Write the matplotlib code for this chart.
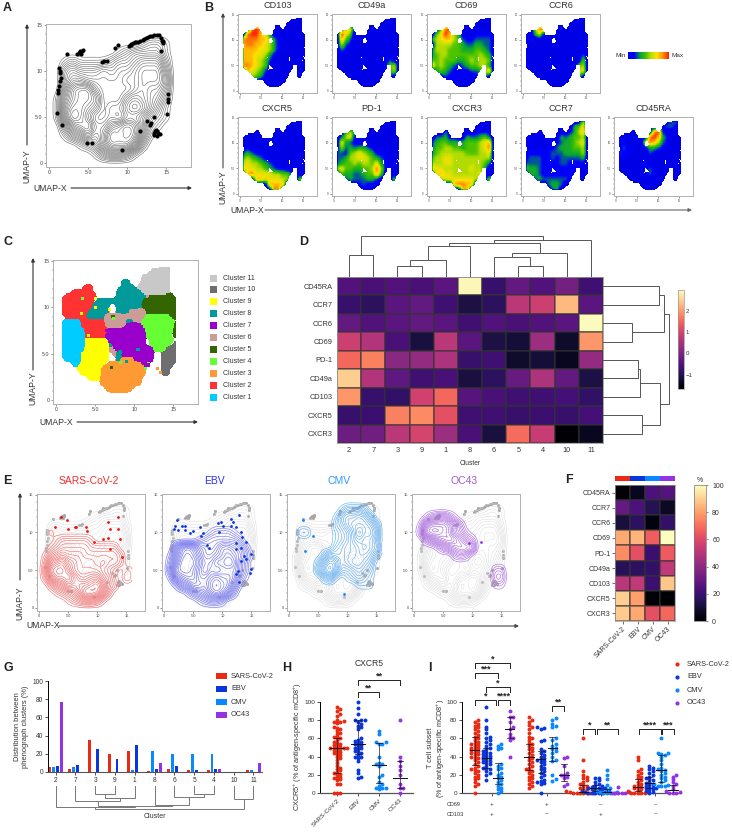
import numpy as np
import matplotlib
matplotlib.use("Agg")
from matplotlib import pyplot as plt
from matplotlib.colors import ListedColormap, LinearSegmentedColormap
from matplotlib.patches import Rectangle

plt.rcParams['font.family'] = ['Liberation Sans', 'DejaVu Sans']
plt.rcParams['mathtext.default'] = 'regular'

W, H = 732, 833
TXT = '#333333'

# ---- data ----
viruses = ["SARS-CoV-2", "EBV", "CMV", "OC43"]
virus_colors = ['#ea2a12', '#0a36e0', '#0a88ff', '#9433e4']

# cluster seen at each half unit of UMAP, y 14 -> 1, x 1 -> 15 (a = 10, b = 11 in the key order below)
cluster_map = [
    ".........................bb..",
    "......................bbbbb..",
    "....................bbbbbbb..",
    "...............88...bbbbbbb..",
    "......22.......888.bbbbbbbb..",
    "...22222......888888bbbbbbb..",
    ".22222222.....88888886555555.",
    "22222222.88888888888555555555",
    "222222228888..888888555555555",
    "222222288888..888666655555555",
    ".2222288888666666666644444455",
    ".111122222266666886644444444.",
    "11111222222666667777444444445",
    "11111122222277777777744444445",
    "111111222227777777777444444.5",
    "11111199999.777777777.444444.",
    "111111999999877777777.44444.a",
    "1111119999996.777777777444aaa",
    "111119999999.6877777777..aaaa",
    ".11119999999..833377777..aaaa",
    "...11999999.3333333377...aaa.",
    "....99999933333333333....aa..",
    ".....9999933333333333....aa..",
    ".......9993333333333.........",
    "..........3333333333.........",
    "...........3333333...........",
    ".............333.............",
]
cluster_keys = "123456789ab"
cluster_colors = ['#00ccff', '#ff3333', '#ff9933', '#66ff33', '#336600', '#cc9c96',
                  '#9a00cc', '#009a9a', '#ffff00', '#6e6e6e', '#c8c8c8']
cluster_names = ["Cluster %d" % n for n in range(11, 0, -1)]
stray_x = [3.4, 5, 5, 6.8, 7.3, 7.4, 3.3, 4.2, 6.5, 11, 8.2, 8.3, 7.1, 11.8, 13, 13.4, 11.5, 9, 10.5, 11.8]
stray_y = [11, 11, 10, 9.8, 9, 8.8, 9.3, 7, 7.5, 7.9, 5.2, 4.1, 3.5, 4, 3.4, 3, 3.4, 4.2, 5.5, 3.8]
stray_c = "49995499778454334887"

# marker level 0-9 per UMAP unit, y 14 -> 1, x 1 -> 15
cd103 = ["000000000000000", "000000000000000", "008980000000000", "089976300000000",
         "888877531000000", "788776531000000", "777766531000000", "777665310000000",
         "777654200000000", "887654100000000", "076542000000000", "005431000000000",
         "000100000000000", "000000000000000"]
cd49a = ["000000000000000", "000000000000100", "008610000000000", "096400000000000",
         "074200000001000", "052100000000100", "021000000000000", "010000000000000",
         "000000000000200", "000000000001450", "000000000000350", "000000000000200",
         "000000000000000", "000000000000000"]
cd69 = ["000000000000000", "000000000000000", "004890000000000", "046975300011110",
        "456775421122220", "055554432233220", "355544433344320", "345544444445431",
        "445444334545540", "745432123445530", "034321111223470", "001211111012400",
        "000011100000000", "000000000000000"]
ccr6 = ["000000000000000", "000000000000000", "004890000000000", "003610000000000",
        "010000000000000", "000000000000000", "000000000000000", "000000000000020",
        "100000000000040", "200000000000450", "000000000000560", "000000000000500",
        "000000000000000", "000000000000000"]
cxcr5 = ["000000000000000", "000000000000000", "000000000000000", "000000000000000",
         "000000000000000", "010000000000000", "232110000000000", "454321000000000",
         "565543210000000", "766554321100000", "078666655442000", "000776666552050",
         "000000777700000", "000000088000000"]
pd1 = ["000000000000000", "000000000000000", "003530000000000", "025610000000000",
       "063210100000000", "052323321000000", "221456543110000", "223556654321000",
       "234454554631000", "564433445851100", "043322344740000", "002322233200040",
       "000011211000000", "000000000000000"]
cxcr3 = ["000000000000000", "000000000001000", "000210000011110", "022311003223420",
         "234433334445670", "244554434445680", "345555554445560", "455665555555550",
         "555665555555420", "766555555655300", "067665555556000", "005666666655050",
         "000007887700000", "000000077000000"]
ccr7 = ["000000000000050", "000000000003460", "001000000013570", "010100003234450",
        "010001112334560", "010101123334450", "111111222333350", "122211212222230",
        "222211112211110", "433211111111100", "033211111111000", "002322222211000",
        "000002332000000", "000000230000000"]
cd45ra = ["000000000001220", "000000000012210", "000000008910000", "010000089731000",
          "010000687521000", "021000133211000", "211000021000000", "110000000000000",
          "000000100000000", "000000121000000", "000000121000000", "000000000000000",
          "000000000000000", "000000000000000"]
b_titles = ["CD103", "CD49a", "CD69", "CCR6", "CXCR5", "PD-1", "CXCR3", "CCR7", "CD45RA"]
b_levels = [cd103, cd49a, cd69, ccr6, cxcr5, pd1, cxcr3, ccr7, cd45ra]

# density per UMAP unit, y 15 -> 0, x 0 -> 16
density_all = ["00000000000000000", "00000000000000000", "00000000000012210", "00000000012333310",
               "00121111233455520", "00343334344566630", "00355444445566640", "00478854444565530",
               "01578874446765420", "01688764557875310", "01698644546653210", "00367855789852100",
               "00134646989841000", "00001236888620000", "00000013443100000", "00000000000000000"]
density_sars = ["00000000000000000", "00000000000000000", "00000000000000000", "00000000000000000",
                "00000000000000000", "00100000000000000", "00012222210000000", "00123333322222000",
                "01345444333333200", "02678654443433200", "03899754444321011", "02688975566431021",
                "00245767789632000", "00012346998520000", "00000123443100000", "00000000000000000"]
density_ebv = ["00000000000000000", "00000000000000000", "00000000000000000", "00000000000000000",
               "00000000000000000", "00000000122210000", "00000012333332000", "00478754346654200",
               "01589864456765310", "02699975577874200", "03899864656664200", "01678866787763100",
               "00145776898741000", "00001345787520000", "00000012332000000", "00000000000000000"]
density_cmv = ["00000000000000000", "00000000000000000", "00000000013332000", "00000000145565300",
               "00000000235666530", "00220000123586640", "00000000123565530", "00000000234456541",
               "00000024334455420", "00000257634554300", "00000368522343200", "00000024101232100",
               "00000000000011100", "00000000000000000", "00000000000000000", "00000000000000000"]
density_oc43 = ["00000000000000000", "00000000000000000", "00000000000000000", "00134531000000000",
                "01688875200000000", "02899874310000000", "00246787532000000", "00001345665000000",
                "00000002320000000", "00000000000000000", "00000000000000220", "00000000000000330",
                "00000000000000110", "00000000000000000", "00000000000000000", "00000000000000000"]
e_density = [density_sars, density_ebv, density_cmv, density_oc43]
e_line = ['#f46a6a', '#6a6af0', '#5aaaf0', '#a866e0']
e_title = ['#f03030', '#3030f0', '#2a9cff', '#a05cd0']

rim_x = [2.3, 3.8, 4, 4.3, 6.75, 7.4, 8.5, 8.8, 10.2, 10.8, 11.7, 12.7, 13.8, 14.4, 14.6, 14.4, 1.3, 1.5, 1.3,
         1.1, 1, 1.6, 15.3, 15.3, 15.1, 12.5, 13.4, 13.6, 14, 13.4, 13.8, 11.7, 4.9, 5.5, 9.4,
         3.6, 10.5, 11.2, 12.2, 13.2, 1.4, 1.4, 15.3, 12.9, 3.9, 4.1, 4.2, 10.5, 11.0, 11.4, 12.0, 12.4, 13.0, 13.5,
         14.1, 14.5, 14.6, 1.4, 1.2, 13.5, 13.9, 13.7, 14.2, 13.1, 7.1]
rim_y = [11.8, 12, 12.1, 12.3, 11, 11.1, 12.5, 12.8, 12.7, 13, 13.3, 13.7, 13.9, 13.6, 13, 12.2, 10.3, 9.3, 8.4,
         7.6, 5.4, 4.2, 7.5, 6.6, 5.3, 4.6, 5, 3.5, 3.3, 3.1, 3, 3.5, 2.2, 2.2, 1.4,
         11.9, 12.8, 13.1, 13.5, 13.8, 9.8, 8.9, 7, 4.2, 12.2, 11.9, 12.2, 12.9, 13.2, 13.2, 13.4, 13.6, 13.8, 13.9,
         13.9, 13.3, 13.3, 10, 8, 3.3, 3.5, 3.6, 3.2, 4.4, 11.05]

sars_x = [2.7, 3.7, 4.7, 4.9, 6.1, 6.3, 8, 8.2, 9.5, 10.9, 11.8, 11.8, 13.5, 13.6, 12.2, 13.9, 12.2, 14.2]
sars_y = [10.7, 12, 11.6, 10.5, 10.7, 10.7, 10.7, 10.2, 8.7, 9.2, 9.3, 11.4, 12, 10.4, 10.4, 9.1, 7.8, 6.8]
ebv_x = [2.2, 1.9, 1.7, 3, 3.5, 2.3, 3.6, 4.4, 4.9, 6.1, 6.7, 6.4, 7.3, 7.7, 9.3, 9.8, 10.1, 9.5, 11.4, 11.8,
         12.8, 11.5, 12.4, 13.2, 13.4, 12.4, 14, 13.2, 12.4, 15, 13.8, 13.2, 14, 12.7, 14.9, 14.8, 12.4, 12.8]
ebv_y = [11.7, 10.9, 10.5, 10.9, 10.9, 10.3, 10.3, 9.9, 10.2, 10.7, 9.9, 9.5, 8.3, 7.9, 11.2, 11.4, 10.9, 10, 11.8, 11.4,
         12.3, 10.9, 10.7, 10, 9.4, 8.6, 8.8, 8, 7.8, 7.1, 6.9, 6.2, 6.5, 4.9, 5.1, 4.6, 4.5, 3.5]
cmv_x = [2.3, 4.1, 2.7, 9.5]
cmv_y = [11.7, 9.6, 7.6, 1.9]
oc43_x = [9.5, 11.4]
oc43_y = [8.6, 8.7]
e_points = [(sars_x, sars_y), (ebv_x, ebv_y), (cmv_x, cmv_y), (oc43_x, oc43_y)]

# panel D
d_rows = ["CD45RA", "CCR7", "CCR6", "CD69", "PD-1", "CD49a", "CD103", "CXCR5", "CXCR3"]
d_cols = ["2", "7", "3", "9", "1", "8", "6", "5", "4", "10", "11"]
d_values = [[-0.5, -0.6, -0.5, -0.6, -0.4, 2.9, -0.8, -0.3, -0.5, -0.1, -0.7],
            [-0.8, -0.9, -0.4, -0.3, -0.7, -1.1, -0.9, 0.7, 0.9, 2.3, -0.4],
            [-0.3, -0.5, -0.4, -0.3, -0.4, -0.7, -0.5, -0.6, -0.5, -0.4, 2.95],
            [0.9, 0.6, -0.6, -1.15, 0.7, -0.4, -1.1, -1.2, 0.35, -1.3, 1.95],
            [1.5, 1.75, 0.15, 0.25, 0.55, -0.8, -0.7, -1.3, -1.2, -1.4, 0.25],
            [2.5, 0.6, -0.35, -0.7, -0.6, -1.15, -0.9, -0.25, 0.55, -0.3, -1.1],
            [1.95, -0.8, -0.85, 0.95, 1.5, -0.45, -0.6, -0.7, -0.7, -0.65, -0.85],
            [-0.8, -0.75, 1.75, 1.85, 1.2, -0.7, -0.7, -0.8, -0.75, -0.8, -0.65],
            [-0.2, -0.15, 0.7, 1.0, 0.35, -0.6, -1.15, 1.55, 0.85, -1.65, -1.4]]
# dendrogram merges: left pos, right pos, left height, right height, merge height
d_top_links = [(0, 1, 0, 0, 21.7), (2, 3, 0, 0, 11.3), (2.5, 4, 11.3, 0, 17), (3.25, 5, 17, 0, 31.3),
               (7, 8, 0, 0, 11.3), (6, 7.5, 0, 11.3, 20), (6.75, 9, 20, 0, 24), (4.125, 7.875, 31.3, 24, 34.3),
               (6, 10, 34.3, 0, 37.3), (0.5, 8, 21.7, 37.3, 41)]
d_right_links = [(0, 1, 0, 0, 56.3), (2, 3, 0, 0, 28.7), (0.5, 2.5, 56.3, 28.7, 61.3), (4, 5, 0, 0, 34.7),
                 (4.5, 6, 34.7, 0, 36.7), (7, 8, 0, 0, 39), (5.25, 7.5, 36.7, 39, 56.7), (1.5, 6.375, 61.3, 56.7, 65.7)]

# panel F
f_values = [[1, 6, 24, 26], [30, 24, 15, 7], [11, 17, 3, 18], [82, 84, 66, 100], [76, 62, 20, 65],
            [16, 17, 18, 52], [50, 52, 20, 88], [90, 80, 1, 0], [89, 82, 62, 68]]

# panel G, bars sit in the order SARS-CoV-2, CMV, EBV, OC43
g_sars = [6, 3.5, 35, 19.5, 23, 1.5, 3, 2, 2.5, 0, 2]
g_cmv = [5.5, 6, 0, 0, 2, 23, 20, 20, 19.5, 0, 2]
g_ebv = [7, 8, 25, 14, 30, 3, 7, 2.5, 3, 0, 0]
g_oc43 = [77, 0, 0, 0, 0, 9.5, 0, 0, 3, 0, 10]
g_links = [(2, 3, 0, 0, 8), (2.5, 4, 8, 0, 12.3), (1, 3.25, 0, 12.3, 14.7), (7, 8, 0, 0, 8), (6, 7.5, 0, 8, 10.7),
           (5, 6.75, 0, 10.7, 18.7), (2.125, 5.875, 14.7, 18.7, 19.7), (0, 4, 0, 19.7, 21.3), (9, 10, 0, 0, 13.3),
           (2, 9.5, 21.3, 13.3, 23.3)]

# panel H
h_sars = [94, 92, 90, 87, 85, 80, 79, 78, 78, 77, 72, 71, 70, 68, 66, 65, 62, 61, 60, 58, 56, 55, 54, 53, 52, 51, 50, 50,
          50, 50, 49, 48, 47, 46, 45, 44, 43, 42, 40, 38, 36, 33, 30, 28, 26, 25, 23, 22, 21, 20, 18, 17, 16, 15, 14, 10, 10, 0, 0, 0]
h_ebv = [100, 93, 87, 80, 80, 80, 78, 76, 74, 72, 70, 60, 58, 57, 56, 55, 54, 53, 52, 50, 50, 48, 46, 45, 44, 42, 40, 40,
         38, 35, 25, 22, 18, 17]
h_cmv = [68, 65, 56, 56, 54, 54, 40, 33, 32, 32, 30, 20, 18, 12, 10, 8, 6, 5, 5, 4]
h_oc43 = [80, 40, 35, 30, 25, 20, 10, 6, 5, 0]
h_values = [h_sars, h_ebv, h_cmv, h_oc43]
h_median = [50, 54, 31, 16]
h_low = [22, 43, 11, 6]
h_high = [60, 80, 55, 35]
h_brackets = [(1, 2, 111.3, "**"), (1, 3, 123.8, "**")]

# panel I, four subsets of four viruses
i_values = [
    [[80, 78, 76, 74, 72, 70, 68, 66, 64, 62, 60, 58, 56, 55, 54, 53, 52, 50, 50, 48, 47, 46, 45, 44, 43, 42, 40, 39, 38, 36,
      34, 32, 30, 28, 26, 25, 24, 22, 20, 18, 16, 15, 12, 10, 8, 0],
     [95, 80, 73, 70, 66, 62, 60, 58, 56, 54, 52, 50, 48, 46, 45, 44, 43, 42, 41, 40, 39, 38, 37, 36, 35, 34, 33, 32, 30, 28,
      27, 26, 24, 22, 20, 14],
     [54, 52, 50, 48, 32, 30, 28, 26, 22, 20, 18, 16, 14, 12, 10, 8, 6, 4, 2, 0],
     [90, 84, 83, 78, 72, 70, 65, 62, 60, 58, 40]],
    [[83, 80, 78, 75, 72, 70, 66, 62, 60, 58, 55, 54, 52, 50, 48, 46, 44, 42, 40, 38, 36, 34, 32, 30, 28, 26, 25, 24, 22, 20,
      18, 16, 14, 12, 10, 8, 6],
     [72, 71, 70, 58, 57, 48, 46, 44, 42, 40, 38, 37, 36, 35, 34, 32, 30, 28, 26, 24, 22, 20, 18, 14, 13, 12, 11, 10, 0],
     [82, 80, 76, 74, 72, 60, 58, 54, 52, 50, 48, 46, 44, 40, 36, 35, 20, 15, 13],
     [40, 38, 30, 22, 20, 20, 18, 16, 10, 8]],
    [[60, 36, 24, 20, 18, 16, 14, 12, 10, 9, 8, 6, 5, 4, 3, 2, 2, 1, 1, 0, 0, 0, 0, 0, 0, 0],
     [17, 16, 14, 12, 10, 9, 8, 7, 6, 6, 5, 5, 4, 4, 3, 3, 2, 2, 1, 1, 0, 0, 0, 0, 0],
     [25, 20, 15, 9, 5, 3, 2, 1, 1, 0, 0, 0, 0],
     [7, 1, 0, 0, 0, 0, 0]],
    [[40, 36, 26, 24, 22, 20, 18, 16, 14, 12, 10, 9, 8, 7, 6, 5, 4, 3, 2, 1, 0, 0, 0, 0, 0],
     [30, 28, 26, 24, 22, 20, 18, 16, 15, 14, 12, 11, 10, 9, 8, 7, 6, 5, 5, 4, 3, 2, 1, 0],
     [60, 44, 44, 43, 42, 40, 36, 32, 28, 26, 25, 24, 22, 20, 18, 16, 14, 12, 10, 9, 8, 8, 8],
     [20, 18, 15, 12, 10, 8, 4, 2, 1, 0, 0, 0]],
]
i_median = [[47, 38, 17, 70], [40, 37, 50, 20], [1, 6, 1, 0], [7, 11, 25, 3]]
i_low = [[31, 27, 10, 60], [25, 22, 35, 13], [0, 2, 0, 0], [2, 5, 12, 0]]
i_high = [[62, 50, 33, 83], [54, 46, 62, 32], [9, 9, 4, 0], [15, 18, 42, 9]]
i_cd69 = ["+", "+", "\u2013", "\u2013"]
i_cd103 = ["+", "\u2013", "+", "\u2013"]
i_brackets = [(0, 1.86, 102, "*"), (2, 3, 102, "****"), (1, 3, 116.8, "*"), (0, 2, 131.5, "***"), (0, 3, 143, "*"),
              (6.66, 7.66, 95.2, "**"), (9.32, 10.32, 70.7, "*"), (10.47, 12.32, 70.7, "**"),
              (14.11, 15.94, 70.7, "****"), (16.09, 17.09, 70.7, "***")]


# ---- helpers ----
fig = plt.figure(figsize=(W / 100, H / 100), dpi=100)

def px_axes(l, t, r, b):
    return fig.add_axes([l / W, 1 - b / H, (r - l) / W, (b - t) / H])

page = px_axes(0, 0, W, H)
page.set_xlim(0, W)
page.set_ylim(H, 0)
page.axis('off')
page.set_zorder(10)

def arrow(x0, y0, x1, y1, color='#333333'):
    page.annotate('', xy=(x1, y1), xytext=(x0, y0),
                  arrowprops=dict(arrowstyle='-|>', color=color, lw=0.8, mutation_scale=5, shrinkA=0, shrinkB=0))

def letter(s, x, y):
    page.text(x, y, s, fontsize=9, fontweight='bold', color='#222222', ha='left', va='center')

def digits(rows):
    return np.array([[int(c) for c in row] for row in rows], dtype=float)

def upsample(a, n):
    rows = np.arange(0, a.shape[0] - 1 + 1e-9, 1 / n)
    cols = np.arange(0, a.shape[1] - 1 + 1e-9, 1 / n)
    tmp = np.array([np.interp(cols, np.arange(a.shape[1]), r) for r in a])
    return np.array([np.interp(rows, np.arange(a.shape[0]), c) for c in tmp.T]).T

def soften(a, k=5):
    kernel = np.ones(k) / k
    a = np.apply_along_axis(lambda v: np.convolve(v, kernel, mode='same'), 0, a)
    return np.apply_along_axis(lambda v: np.convolve(v, kernel, mode='same'), 1, a)

def umap_axes(l, t, r, b, tick_size):
    ax = px_axes(l, t, r, b)
    ax.set_xlim(-0.4, 18.2)
    ax.set_ylim(-0.4, 15.1)
    ax.set_xticks([0, 5, 10, 15], ["0", "5.0", "10", "15"])
    ax.set_yticks([0, 5, 10, 15], ["0", "5.0", "10", "15"])
    ax.set_xticks(range(0, 19), minor=True)
    ax.set_yticks(range(0, 16), minor=True)
    ax.tick_params(labelsize=tick_size, length=1.5, width=0.4, pad=1, colors='#444444')
    ax.tick_params(which='minor', length=0.8, width=0.3, colors='#444444')
    for s in ax.spines.values():
        s.set_color('#b0b0b0')
        s.set_linewidth(0.7)
    return ax

def draw_density(ax, rows, color, lw, levels):
    z = soften(upsample(digits(rows), 5))
    xs = np.linspace(0, 16, z.shape[1])
    ys = np.linspace(15, 0, z.shape[0])
    ax.contour(xs, ys, z, levels=levels, colors=color, linewidths=lw)

def draw_links(ax, links, vertical=True, color='#555555'):
    for a, b, ha, hb, h in links:
        if vertical:
            ax.plot([a, a, b, b], [ha, h, h, hb], color=color, lw=0.7, solid_joinstyle='miter')
        else:
            ax.plot([ha, h, h, hb], [a, a, b, b], color=color, lw=0.7, solid_joinstyle='miter')

def swarm(values, px_x, px_y, d):
    placed = []
    out = []
    for v in sorted(values):
        k = 0
        while True:
            # 0, +1, -1, +2, -2 ...
            step = (k + 1) // 2 * (1 if k % 2 else -1)
            x = step * d * 0.5
            if all((x - px) ** 2 + ((v - pv) * px_y) ** 2 >= (d * 0.8) ** 2 for px, pv in placed):
                break
            k += 1
        placed.append((x, v))
        out.append(x / px_x)
    return np.array(out), np.array(sorted(values))

def bracket(ax, a, b, y, label, drop):
    ax.plot([a, a, b, b], [y - drop, y, y, y - drop], color='#222222', lw=0.7, clip_on=False)
    ax.text((a + b) / 2, y - 0.5, label, ha='center', va='bottom', fontsize=6.5, fontweight='bold',
            color='#222222', clip_on=False, linespacing=0.5)

def dot_column(ax, pos, values, med, low, high, color, px_x, half_med, half_cap):
    off, vals = swarm(values, px_x, 0.91, 3.4)
    ax.scatter(pos + off, vals, s=8, color=color, linewidths=0, clip_on=False, zorder=3)
    ax.plot([pos, pos], [low, high], color='#222222', lw=0.5, zorder=4)
    for v, w in ((low, half_cap), (high, half_cap), (med, half_med)):
        ax.plot([pos - w / px_x, pos + w / px_x], [v, v], color='#111111', lw=0.7 if v == med else 0.5, zorder=4)

def stat_axes(l, r, xlim):
    ax = px_axes(l, 702, r, 793)
    ax.set_xlim(*xlim)
    ax.set_ylim(0, 100)
    ax.set_yticks(range(0, 101, 20))
    ax.tick_params(labelsize=4.6, length=2.5, width=0.6, pad=1, colors=TXT)
    ax.spines[['top', 'right']].set_visible(False)
    ax.spines['left'].set_linewidth(0.7)
    ax.spines['bottom'].set_linewidth(0.9)
    ax.spines['bottom'].set_color('#555555')
    return ax

# smooth the half unit cluster map so the islands get rounded edges
keys = "." + cluster_keys
votes = np.array([soften(upsample(np.array([[float(c == k) for c in row] for row in cluster_map]), 4), 5) for k in keys])
votes[0] *= 0.55  # empty cells give way, the cloud has no gaps between its clusters
fine_map = votes.argmax(axis=0) - 1.0
MAP_BOX = (0.75, 15.25, 0.75, 14.25)

# ---- A ----
letter("A", 3, 8)
ax = umap_axes(46, 24, 191, 167, 3.8)
draw_density(ax, density_all, '#666666', 0.4, np.arange(0.5, 9.5, 0.38))
ax.scatter(rim_x, rim_y, s=9, color='black', linewidths=0, zorder=3)
page.text(27, 166, "UMAP-Y", rotation=90, fontsize=6.2, color=TXT, ha='center', va='center')
arrow(27, 145, 27, 24)
page.text(33, 188, "UMAP-X", fontsize=6.2, color=TXT, ha='left', va='center')
arrow(71, 188, 192, 188)

# ---- B ----
letter("B", 204, 8)
expr = LinearSegmentedColormap.from_list('expr', ['#0000e6', '#0000ff', '#00a040', '#40c000', '#c0e000',
                                                  '#ffe000', '#ff9000', '#ff2000'])
b_lefts = [238, 332, 427, 521, 238, 332, 427, 521, 614]
for i in range(9):
    top = 14 if i < 4 else 117
    ax = umap_axes(b_lefts[i], top, b_lefts[i] + 79, top + 79, 2)
    z = np.ma.masked_array(soften(upsample(digits(b_levels[i]), 8), 5), fine_map < 0)
    ax.imshow(z, extent=MAP_BOX, cmap=expr, vmin=0, vmax=9, aspect='auto', interpolation='nearest')
    ax.set_xlim(-0.4, 18.2)
    ax.set_ylim(-0.4, 15.1)
    page.text(b_lefts[i] + 39.5, top - 9, b_titles[i], fontsize=6.6, color=TXT, ha='center', va='center')
ax = px_axes(628, 52, 669, 59)
ax.imshow(np.linspace(0, 1, 100)[None, :], cmap=expr, aspect='auto')
ax.axis('off')
page.text(626, 55.5, "Min", fontsize=4.6, color=TXT, ha='right', va='center')
page.text(671, 55.5, "Max", fontsize=4.6, color=TXT, ha='left', va='center')
page.text(223, 187, "UMAP-Y", rotation=90, fontsize=6.2, color=TXT, ha='center', va='center')
arrow(223, 168, 223, 13, '#444444')
page.text(230, 210, "UMAP-X", fontsize=6.2, color=TXT, ha='left', va='center')
arrow(265, 210, 692, 210, '#666666')

# ---- C ----
letter("C", 3, 242)
ax = umap_axes(53, 260, 198, 404, 3.8)
ax.imshow(np.ma.masked_less(fine_map, 0), extent=MAP_BOX, cmap=ListedColormap(cluster_colors),
          vmin=0, vmax=10, aspect='auto', interpolation='nearest')
ax.scatter(stray_x, stray_y, s=5, marker='s', linewidths=0, zorder=3,
           color=[cluster_colors[cluster_keys.find(c)] for c in stray_c])
ax.set_xlim(-0.4, 18.2)
ax.set_ylim(-0.4, 15.1)
page.text(33, 388, "UMAP-Y", rotation=90, fontsize=6.2, color=TXT, ha='center', va='center')
arrow(33, 370, 33, 258)
page.text(39, 422, "UMAP-X", fontsize=6.2, color=TXT, ha='left', va='center')
arrow(77, 422, 198, 422)
for i, name in enumerate(cluster_names):
    page.add_patch(Rectangle((210, 274.5 + i * 11.9), 7, 7, color=cluster_colors[10 - i], lw=0))
    page.text(223, 278 + i * 11.9, name, fontsize=5, color=TXT, ha='left', va='center')

# ---- D ----
letter("D", 299, 242)
ax = px_axes(337, 277, 603, 443)
mesh = ax.pcolormesh(np.array(d_values), cmap='magma', vmin=-1.68, vmax=2.98, edgecolors='#33333380', linewidth=0.3)
ax.set_xlim(0, 11)
ax.set_ylim(9, 0)
ax.set_xticks(np.arange(11) + 0.5, d_cols)
ax.set_yticks(np.arange(9) + 0.5, d_rows)
ax.tick_params(labelsize=5.3, length=0, pad=3, colors=TXT)
ax.set_xlabel("Cluster", fontsize=4.8, color=TXT, labelpad=4)
for s in ax.spines.values():
    s.set_color('#999999')
    s.set_linewidth(0.6)
ax = px_axes(337, 233, 603, 277)
ax.set_xlim(-0.5, 10.5)
ax.set_ylim(0, 44)
ax.axis('off')
draw_links(ax, d_top_links)
ax = px_axes(603, 277, 671, 443)
ax.set_ylim(8.5, -0.5)
ax.set_xlim(0, 68)
ax.axis('off')
draw_links(ax, d_right_links, vertical=False)
cax = px_axes(678, 290, 684, 389)
cb = fig.colorbar(mesh, cax=cax, ticks=[-1, 0, 1, 2])
cb.ax.set_yticklabels(["\u22121", "0", "1", "2"])
cb.ax.tick_params(labelsize=4.4, length=0, pad=1, colors=TXT)
cb.outline.set_edgecolor('#999999')
cb.outline.set_linewidth(0.5)

# ---- E ----
letter("E", 3, 481)
e_lefts = [37, 162, 287, 412]
for i in range(4):
    ax = umap_axes(e_lefts[i], 494, e_lefts[i] + 108, 611, 2.8)
    draw_density(ax, density_all, '#dcdcdc', 0.35, np.arange(0.5, 9.5, 0.6))
    ax.scatter(rim_x, rim_y, s=5, color='#a8a8a8', linewidths=0, zorder=1)
    draw_density(ax, e_density[i], e_line[i], 0.4, np.arange(0.5, 9.5, 0.5))
    ax.scatter(e_points[i][0], e_points[i][1], s=4, color=virus_colors[i] if i else '#f01010', linewidths=0, zorder=3)
    page.text(e_lefts[i] + 52, 481, viruses[i], fontsize=7.5, color=e_title[i], ha='center', va='center')
page.text(20, 603, "UMAP-Y", rotation=90, fontsize=6.2, color=TXT, ha='center', va='center')
arrow(20, 580, 20, 493)
page.text(26, 626, "UMAP-X", fontsize=6.2, color=TXT, ha='left', va='center')
arrow(59, 626, 519, 626, '#444444')

# ---- F ----
letter("F", 565, 480)
ax = px_axes(615, 485, 675, 621)
mesh = ax.pcolormesh(np.array(f_values), cmap='magma', vmin=0, vmax=100, edgecolors='#33333380', linewidth=0.3)
ax.set_xlim(0, 4)
ax.set_ylim(9, 0)
ax.set_yticks(np.arange(9) + 0.5, d_rows)
ax.set_xticks(np.arange(4) + 0.5, viruses, rotation=45, ha='right', rotation_mode='anchor')
ax.tick_params(labelsize=5, length=2, width=0.5, pad=1.5, colors=TXT)
for s in ax.spines.values():
    s.set_color('#999999')
    s.set_linewidth(0.5)
ax = px_axes(615, 476, 675, 481)
ax.imshow([[0, 1, 2, 3]], cmap=ListedColormap(virus_colors), aspect='auto')
ax.axis('off')
cax = px_axes(694, 485, 706, 621)
cb = fig.colorbar(mesh, cax=cax, ticks=range(0, 101, 20))
cb.ax.tick_params(labelsize=5, length=1.5, width=0.4, pad=3, colors=TXT)
cb.outline.set_edgecolor('#777777')
cb.outline.set_linewidth(0.5)
page.text(700, 480, "%", fontsize=5, color=TXT, ha='center', va='center')

# ---- G ----
letter("G", 3, 668)
ax = px_axes(48, 681, 262, 772)
idx = np.arange(11)
g_series = [g_sars, g_cmv, g_ebv, g_oc43]
g_colors = [virus_colors[0], virus_colors[2], virus_colors[1], virus_colors[3]]
for j in range(4):
    ax.bar(idx + (j - 1.5) * 0.197, g_series[j], width=0.15, color=g_colors[j], linewidth=0)
ax.set_xlim(-0.39, 10.43)
ax.set_ylim(0, 100)
ax.set_xticks(idx, d_cols)
ax.set_yticks(range(0, 101, 20))
ax.tick_params(labelsize=4.8, length=2.5, width=0.6, pad=1, colors=TXT)
ax.spines[['top', 'right']].set_visible(False)
ax.spines['left'].set_linewidth(0.7)
ax.spines['bottom'].set_color('#555555')
ax.set_ylabel("Distribution between\nphenograph clusters (%)", fontsize=5.4, color=TXT, labelpad=2, linespacing=1.3)
dax = px_axes(48, 786, 262, 810)
dax.set_xlim(-0.39, 10.43)
dax.set_ylim(24, 0)
dax.axis('off')
draw_links(dax, g_links, color='#777777')
page.text(155, 817, "Cluster", fontsize=5, color=TXT, ha='center', va='center')
for i, name in enumerate(viruses):
    page.add_patch(Rectangle((216, 673 + i * 13), 11, 6, color=virus_colors[i], lw=0))
    page.text(231, 676 + i * 13, name, fontsize=5.3, color=TXT, ha='left', va='center')

# ---- H ----
letter("H", 282, 668)
ax = stat_axes(320, 413, (-0.81, 3.62))
for i in range(4):
    dot_column(ax, i, h_values[i], h_median[i], h_low[i], h_high[i], virus_colors[i], 21, 7, 3)
for a, b, y, s in h_brackets:
    bracket(ax, a, b, y, s, 5.5)
ax.set_xticks(range(4), viruses, rotation=45, ha='right', rotation_mode='anchor')
page.text(298, 747, "CXCR5$^{+}$ (% of antigen-specific mCD8$^{+}$)", rotation=90, fontsize=5.2, color=TXT,
          ha='center', va='center')
page.text(369, 663, "CXCR5", fontsize=6.2, color=TXT, ha='center', va='center')

# ---- I ----
letter("I", 428, 668)
ax = stat_axes(462, 681, (-1.09, 17.68))
for g in range(4):
    for s in range(4):
        dot_column(ax, 4.66 * g + s, i_values[g][s], i_median[g][s], i_low[g][s], i_high[g][s],
                   virus_colors[s], 11.67, 4.7, 3)
for a, b, y, s in i_brackets:
    bracket(ax, a, b, y, s, 5.5)
ax.set_xticks([4.66 * g + 1.5 for g in range(4)], [""] * 4)
page.text(431, 748, "T cell subset", rotation=90, fontsize=5.2, color=TXT, ha='center', va='center')
page.text(441, 748, "(% of antigen-specific mCD8$^{+}$)", rotation=90, fontsize=5.2, color=TXT, ha='center', va='center')
for g in range(4):
    xp = 280 + (636 + 163.5 * g) / 3
    page.text(xp, 805, i_cd69[g], fontsize=4.6, color=TXT, ha='center', va='center')
    page.text(xp, 814, i_cd103[g], fontsize=4.6, color=TXT, ha='center', va='center')
page.text(447, 805, "CD69", fontsize=4, color=TXT, ha='left', va='center')
page.text(447, 814, "CD103", fontsize=4, color=TXT, ha='left', va='center')
for i, name in enumerate(viruses):
    page.scatter([677], [664 + i * 13], s=9, color=virus_colors[i], linewidths=0)
    page.text(687, 664 + i * 13, name, fontsize=5.3, color=TXT, ha='left', va='center')

fig.savefig("out.png", dpi=100)
